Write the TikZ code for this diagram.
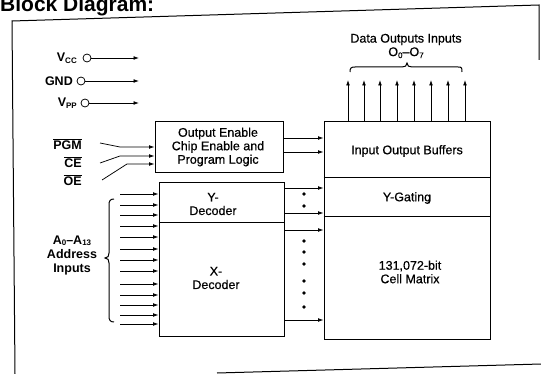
\documentclass[tikz,border=0pt]{standalone}
\usepackage{fontspec}
\setmainfont{Liberation Sans}
\newfontfamily\medfont{Liberation Sans}[FakeBold=0.6,Ligatures=TeX]
\usetikzlibrary{arrows.meta}
\newcommand\mysub[1]{\raisebox{-0.3ex}{\fontsize{8}{8}\selectfont #1}}
\newcommand\myover[1]{$\overline{\mbox{#1}}$}
\begin{document}
\begin{tikzpicture}[x=1pt,y=-1pt,
  blk/.style={draw, line width=1pt, inner sep=0pt, rectangle},
  txt/.style={font=\medfont\fontsize{12.5}{13.5}\selectfont, align=center, inner sep=0pt},
  pin/.style={font=\bfseries\fontsize{12.5}{15}\selectfont, inner sep=0pt, align=center},
  arr/.style={line width=0.75pt, -{Latex[length=5.5pt,width=3.8pt]}},
  ln/.style={line width=1pt},
  pinc/.style={draw, circle, minimum size=8pt, inner sep=0pt, line width=0.75pt}]
\useasboundingbox (0,0) rectangle (541,374);
% title (partly cut at the top, as in the reference)
\node[anchor=base west, font=\bfseries\fontsize{21}{21}\selectfont, inner sep=0pt] (title) at (0,12) {Block Diagram:};
% frame
\draw[ln] (539,60) -- (539,5) -- (12,21) -- (15,374);
\draw[ln] (217,373) -- (541,364);
% blocks
\node[blk, minimum width=128pt, minimum height=51pt] (oel) at (219,147.5) {};
\node[blk, minimum width=125pt, minimum height=153pt] (dec) at (221.5,259.5) {};
\node[blk, minimum width=166pt, minimum height=217pt] (mem) at (407,230.5) {};
\coordinate (d1) at (0,223);
\draw[ln] (d1 -| dec.west) -- (d1 -| dec.east);
\coordinate (d2) at (0,178);
\coordinate (d3) at (0,217);
\draw[ln] (d2 -| mem.west) -- (d2 -| mem.east);
\draw[ln] (d3 -| mem.west) -- (d3 -| mem.east);
% block texts
\node[txt] (oeltxt) at (218,147) {Output Enable\\Chip Enable and\\Program Logic};
\node[txt] (ydec) at (213,204) {Y-\\Decoder};
\node[txt] (xdec) at (216,278) {X-\\Decoder};
\node[txt] (iob) at (407,151) {Input Output Buffers};
\node[txt] (ygat) at (407,198) {Y-Gating};
\node[txt] (cell) at (410,272) {131,072-bit\\Cell Matrix};
\node[txt] (dlab) at (406,46) {Data Outputs Inputs\\O\mysub{0}–O\mysub{7}};
% power pins
\node[pin, anchor=east] (vcc) at (77,58) {V\mysub{CC}};
\node[pinc] (vcco) at (87,58) {};
\coordinate (vcce) at (139,58);
\draw[arr] (vcco) -- (vcce);
\node[pin, anchor=east] (gnd) at (73,81) {GND};
\node[pinc] (gndo) at (81,81) {};
\coordinate (gnde) at (139,81);
\draw[arr] (gndo) -- (gnde);
\node[pin, anchor=east] (vpp) at (77,103) {V\mysub{PP}};
\node[pinc] (vppo) at (85,103) {};
\coordinate (vppe) at (139,103);
\draw[arr] (vppo) -- (vppe);
% control pins
\node[pin, anchor=east] (pgm) at (82,144) {\myover{PGM}};
\node[pin, anchor=east] (ce) at (82,162) {\myover{CE}};
\node[pin, anchor=east] (oe) at (82,180) {\myover{OE}};
\coordinate (pgm1) at (100,143);
\coordinate (pgm2) at (120,147);
\draw[arr] (pgm1) -- (pgm2) -- (pgm2 -| oel.west);
\coordinate (ce1) at (100,163);
\coordinate (ce2) at (120,156);
\draw[arr] (ce1) -- (ce2) -- (ce2 -| oel.west);
\coordinate (oe1) at (102,180);
\coordinate (oe2) at (127,164);
\draw[arr] (oe1) -- (oe2) -- (oe2 -| oel.west);
% address inputs
\foreach \y [count=\i] in {194,205,215,226,237,249,260,271,284,295,305,315,324} {
  \coordinate (a\i) at (120,\y);
  \draw[arr] (a\i) -- (a\i -| dec.west);
}
\draw[line width=1pt] (114,199) .. controls (110,199) and (109,201) .. (109,205) -- (109,253)
  .. controls (109,256) and (108,258) .. (105,258) .. controls (108,258) and (109,260) .. (109,263)
  -- (109,316) .. controls (109,320) and (110,322) .. (114,322);
\node[pin] (alab) at (72,255) {A\mysub{0}–A\mysub{13}\\[-1pt]Address\\[-1pt]Inputs};
% oel to buffers
\foreach \y [count=\i] in {138,152} {
  \coordinate (b\i) at (0,\y);
  \draw[arr] (b\i -| oel.east) -- (b\i -| mem.west);
}
% decoder to matrix
\foreach \y [count=\i] in {188,213,230,320} {
  \coordinate (m\i) at (0,\y);
  \draw[arr] (m\i -| dec.east) -- (m\i -| mem.west);
}
\foreach \y in {194,206,241,252,264,281,293,307} {
  \fill (304,\y) circle (1.9pt);
}
% data outputs
\foreach \x [count=\i] in {348,364,380,397,414,431,448,465} {
  \coordinate (o\i) at (\x,80);
  \draw[arr] (o\i |- mem.north) -- (o\i);
}
\draw[line width=1pt] (350,72) .. controls (350,68) and (351,67) .. (355,67) -- (402,67)
  .. controls (405,67) and (407,66) .. (407,63) .. controls (407,66) and (409,67) .. (412,67)
  -- (458,67) .. controls (462,67) and (462,68) .. (462,72);
\end{tikzpicture}
\end{document}
